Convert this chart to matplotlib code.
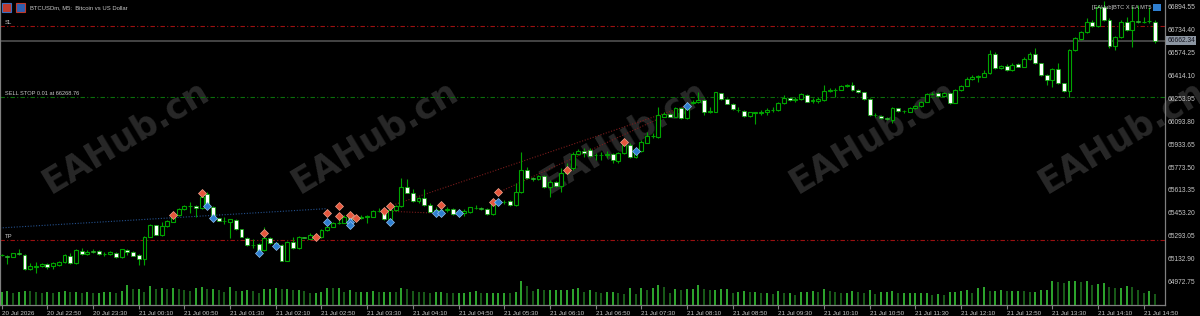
import matplotlib
matplotlib.use('Agg')
import matplotlib.pyplot as plt
from matplotlib.patches import Rectangle
import numpy as np

# BTCUSDm M5 bars, first bar 20 Jul 22:10
opens = [
    65163, 65161, 65154, 65177, 65166, 65068, 65084, 65089, 65101, 65089,
    65096, 65114, 65161, 65108, 65196, 65173, 65196, 65194, 65170, 65170,
    65182, 65149, 65201, 65184, 65166, 65135, 65294, 65373, 65303, 65368,
    65398, 65445, 65485, 65508, 65508, 65492, 65589, 65499, 65422, 65403,
    65398, 65410, 65345, 65287, 65236, 65242, 65201, 65282, 65247, 65236,
    65126, 65254, 65212, 65289, 65280, 65296, 65289, 65340, 65364, 65389,
    65391, 65433, 65410, 65422, 65433, 65433, 65475, 65471, 65415, 65480,
    65508, 65643, 65601, 65543, 65566, 65515, 65466, 65480, 65482, 65487,
    65452, 65461, 65466, 65494, 65492, 65487, 65450, 65527, 65536, 65543,
    65515, 65603, 65759, 65701, 65694, 65717, 65643, 65678, 65648, 65741,
    65771, 65871, 65895, 65899, 65862, 65864, 65867, 65869, 65825, 65876,
    65934, 65853, 65895, 65951, 65995, 65988, 66132, 66149, 66132, 66190,
    66121, 66230, 66232, 66249, 66167, 66167, 66295, 66256, 66221, 66181,
    66172, 66139, 66160, 66160, 66162, 66176, 66179, 66225, 66265, 66249,
    66253, 66284, 66242, 66242, 66249, 66314, 66318, 66321, 66349, 66351,
    66318, 66302, 66256, 66144, 66139, 66121, 66109, 66190, 66172, 66167,
    66190, 66207, 66237, 66291, 66300, 66279, 66295, 66230, 66318, 66349,
    66395, 66412, 66412, 66435, 66570, 66470, 66486, 66458, 66498, 66481,
    66533, 66568, 66505, 66423, 66388, 66465, 66365, 66311, 66598, 66675,
    66721, 66796, 66765, 66896, 66807, 66628, 66686, 66796, 66737, 66800,
    66793, 66798, 66796,
]
highs = [
    65173, 65168, 65182, 65205, 65170, 65108, 65117, 65108, 65108, 65114,
    65124, 65173, 65177, 65205, 65212, 65201, 65208, 65201, 65187, 65196,
    65189, 65210, 65208, 65191, 65173, 65298, 65382, 65377, 65398, 65410,
    65457, 65492, 65515, 65538, 65515, 65592, 65603, 65508, 65426, 65433,
    65419, 65415, 65350, 65294, 65280, 65247, 65364, 65289, 65252, 65240,
    65261, 65294, 65301, 65294, 65317, 65312, 65350, 65371, 65394, 65422,
    65443, 65468, 65445, 65443, 65443, 65480, 65492, 65475, 65492, 65515,
    65701, 65694, 65624, 65568, 65624, 65527, 65503, 65531, 65499, 65492,
    65473, 65485, 65503, 65515, 65499, 65492, 65550, 65554, 65550, 65550,
    65666, 65887, 65783, 65713, 65724, 65722, 65689, 65683, 65771, 65806,
    65887, 65904, 65911, 65911, 65876, 65888, 65895, 65876, 65888, 65946,
    65946, 65904, 65969, 66027, 66016, 66197, 66167, 66156, 66202, 66197,
    66225, 66249, 66307, 66253, 66202, 66307, 66300, 66260, 66225, 66202,
    66179, 66167, 66167, 66179, 66190, 66197, 66237, 66284, 66272, 66267,
    66295, 66288, 66260, 66272, 66353, 66330, 66330, 66353, 66360, 66377,
    66323, 66307, 66260, 66156, 66144, 66127, 66197, 66195, 66179, 66197,
    66214, 66244, 66295, 66304, 66307, 66302, 66300, 66323, 66353, 66412,
    66423, 66423, 66458, 66598, 66586, 66493, 66500, 66505, 66505, 66551,
    66586, 66609, 66509, 66428, 66470, 66505, 66370, 66602, 66686, 66733,
    66819, 66807, 66912, 66940, 66819, 66696, 66807, 66831, 66905, 66912,
    66831, 66900, 66807,
]
lows = [
    65159, 65103, 65149, 65166, 65061, 65061, 65042, 65084, 65068, 65068,
    65089, 65108, 65103, 65103, 65168, 65163, 65177, 65163, 65159, 65163,
    65145, 65145, 65163, 65156, 65096, 65096, 65289, 65303, 65298, 65364,
    65394, 65440, 65480, 65461, 65431, 65485, 65508, 65410, 65401, 65382,
    65284, 65343, 65289, 65231, 65212, 65184, 65196, 65242, 65212, 65121,
    65121, 65208, 65208, 65282, 65275, 65270, 65284, 65336, 65359, 65382,
    65387, 65398, 65401, 65417, 65389, 65429, 65466, 65410, 65410, 65475,
    65503, 65596, 65538, 65527, 65510, 65464, 65457, 65457, 65468, 65447,
    65443, 65438, 65461, 65485, 65480, 65445, 65445, 65522, 65522, 65510,
    65510, 65596, 65696, 65685, 65689, 65634, 65573, 65643, 65606, 65736,
    65759, 65864, 65853, 65853, 65830, 65830, 65841, 65806, 65806, 65871,
    65841, 65841, 65888, 65946, 65981, 65983, 66127, 66127, 66127, 66116,
    66116, 66221, 66225, 66144, 66156, 66162, 66249, 66218, 66181, 66167,
    66132, 66132, 66081, 66144, 66144, 66167, 66174, 66221, 66244, 66237,
    66249, 66232, 66225, 66230, 66244, 66307, 66272, 66316, 66337, 66314,
    66297, 66251, 66139, 66132, 66116, 66109, 66090, 66167, 66156, 66162,
    66186, 66202, 66232, 66284, 66272, 66274, 66221, 66225, 66314, 66344,
    66391, 66377, 66407, 66430, 66465, 66465, 66453, 66453, 66477, 66477,
    66528, 66500, 66419, 66353, 66342, 66360, 66307, 66272, 66593, 66670,
    66717, 66761, 66761, 66803, 66609, 66598, 66682, 66733, 66621, 66784,
    66784, 66789, 66649,
]
closes = [
    65166, 65154, 65177, 65170, 65066, 65089, 65087, 65101, 65084, 65108,
    65119, 65166, 65108, 65201, 65173, 65189, 65189, 65170, 65173, 65184,
    65149, 65205, 65187, 65161, 65138, 65294, 65373, 65308, 65368, 65401,
    65445, 65485, 65508, 65510, 65492, 65573, 65515, 65422, 65406, 65401,
    65415, 65347, 65294, 65236, 65233, 65189, 65287, 65247, 65224, 65126,
    65256, 65212, 65289, 65287, 65303, 65301, 65340, 65364, 65387, 65391,
    65433, 65403, 65429, 65433, 65436, 65475, 65473, 65415, 65480, 65508,
    65643, 65601, 65543, 65561, 65515, 65468, 65480, 65482, 65485, 65452,
    65468, 65473, 65499, 65492, 65485, 65450, 65538, 65545, 65533, 65515,
    65603, 65759, 65701, 65699, 65717, 65638, 65678, 65648, 65741, 65771,
    65871, 65895, 65876, 65860, 65864, 65862, 65871, 65830, 65876, 65934,
    65853, 65895, 65958, 65997, 65997, 66144, 66149, 66132, 66190, 66121,
    66214, 66232, 66249, 66167, 66169, 66302, 66256, 66223, 66186, 66179,
    66139, 66162, 66162, 66165, 66179, 66179, 66230, 66265, 66249, 66258,
    66288, 66237, 66249, 66256, 66311, 66316, 66321, 66349, 66351, 66318,
    66302, 66256, 66144, 66142, 66121, 66114, 66190, 66172, 66169, 66190,
    66207, 66237, 66288, 66293, 66277, 66295, 66230, 66318, 66349, 66395,
    66412, 66414, 66435, 66570, 66470, 66486, 66458, 66493, 66481, 66533,
    66568, 66505, 66423, 66388, 66465, 66365, 66311, 66598, 66679, 66721,
    66796, 66765, 66896, 66807, 66628, 66686, 66796, 66737, 66803, 66791,
    66796, 66800, 66662,
]
volumes = [
    280, 301, 245, 266, 301, 294, 273, 245, 266, 259,
    280, 294, 266, 280, 259, 266, 259, 259, 273, 280,
    245, 294, 420, 329, 329, 280, 406, 336, 350, 329,
    350, 329, 315, 301, 350, 385, 336, 336, 315, 280,
    371, 294, 301, 315, 301, 259, 336, 336, 350, 336,
    336, 315, 315, 294, 259, 259, 273, 364, 350, 350,
    273, 308, 273, 273, 273, 294, 273, 280, 280, 273,
    350, 329, 294, 280, 273, 259, 273, 280, 259, 252,
    259, 259, 273, 294, 245, 259, 259, 259, 259, 245,
    280, 504, 399, 294, 329, 308, 308, 308, 308, 308,
    329, 350, 273, 308, 273, 259, 273, 273, 259, 238,
    350, 224, 350, 308, 364, 420, 378, 259, 329, 308,
    329, 329, 420, 329, 308, 308, 329, 329, 245, 273,
    294, 280, 280, 252, 252, 231, 301, 245, 252, 217,
    266, 266, 287, 280, 336, 301, 266, 252, 252, 287,
    280, 252, 315, 231, 266, 266, 301, 252, 252, 252,
    252, 252, 252, 217, 231, 217, 266, 280, 287, 315,
    252, 357, 385, 287, 301, 315, 287, 287, 301, 287,
    280, 280, 315, 322, 511, 490, 455, 511, 511, 476,
    511, 427, 441, 455, 385, 357, 357, 406, 371, 322,
    252, 287, 231,
]
assert len(opens) == len(highs) == len(lows) == len(closes) == len(volumes) == 203

time_labels = ['20 Jul 2026', '20 Jul 22:50', '20 Jul 23:30', '21 Jul 00:10', '21 Jul 00:50',
               '21 Jul 01:30', '21 Jul 02:10', '21 Jul 02:50', '21 Jul 03:30', '21 Jul 04:10',
               '21 Jul 04:50', '21 Jul 05:30', '21 Jul 06:10', '21 Jul 06:50', '21 Jul 07:30',
               '21 Jul 08:10', '21 Jul 08:50', '21 Jul 09:30', '21 Jul 10:10', '21 Jul 10:50',
               '21 Jul 11:30', '21 Jul 12:10', '21 Jul 12:50', '21 Jul 13:30', '21 Jul 14:10',
               '21 Jul 14:50']
price_ticks = [66894.55, 66734.40, 66574.25, 66414.10, 66253.95, 66093.80, 65933.65,
               65773.50, 65613.35, 65453.20, 65293.05, 65132.90, 64972.75]

# trade arrows
sell_bars = [30, 35, 46, 55, 57, 59, 59, 61, 62, 67, 68, 77, 86, 87, 99, 109]
sell_prices = [65445, 65596, 65322, 65294, 65461, 65508, 65438, 65443, 65422, 65473,
               65508, 65515, 65534, 65603, 65759, 65958]
buy_bars = [36, 37, 45, 48, 57, 61, 61, 68, 76, 77, 80, 87, 111, 120]
buy_prices = [65508, 65422, 65182, 65231, 65394, 65394, 65375, 65394, 65457, 65457,
              65457, 65534, 65895, 66209]

# trade history links (from bar, from price, to bar, to price)
link_from_bar = [-0.3, 67, 68, 87]
link_from_price = [65355, 65473, 65508, 65603]
link_to_bar = [57, 77, 120, 120]
link_to_price = [65490, 65457, 66209, 66209]

sl_price = 66767.5
tp_price = 65269.0
sell_stop_price = 66268.76
bid_price = 66662.34

GREEN = '#00a400'
TXT = '#c8c8c8'
AXC = '#7f7f7f'
FONT = ['Liberation Sans Narrow', 'Liberation Sans', 'DejaVu Sans']
plt.rcParams['font.family'] = FONT

fig = plt.figure(figsize=(12, 3.16), dpi=100, facecolor='black')
ax = fig.add_axes([0, 11 / 316, 1165 / 1200, 305 / 316])
ax.set_facecolor('black')

n = len(closes)
x = np.arange(n)
o = np.array(opens, float)
c = np.array(closes, float)
h = np.array(highs, float)
l = np.array(lows, float)
up = c >= o

# watermark
for cx in [126, 375, 624, 873, 1122]:
    ax.text(cx / 1200, 1 - 137 / 316, 'EAHub.cn', transform=fig.transFigure, rotation=31,
            ha='center', va='center', fontsize=25, fontweight='bold', color='#282828',
            family='DejaVu Sans', zorder=0.5)

# level lines
ax.axhline(sl_price, color='#9a1010', lw=0.8, ls=(0, (4, 2, 1, 2)), zorder=1)
ax.axhline(tp_price, color='#9a1010', lw=0.8, ls=(0, (4, 2, 1, 2)), zorder=1)
ax.axhline(sell_stop_price, color='#0a6e0a', lw=0.8, ls=(0, (4, 2, 1, 2)), zorder=1)
ax.axhline(bid_price, color='#4a4a4a', lw=1.3, zorder=1)
yt = ax.get_yaxis_transform()
ax.text(0.004, sl_price + 6, 'SL', transform=yt, color=TXT, fontsize=4.3, va='bottom')
ax.text(0.004, tp_price + 6, 'TP', transform=yt, color=TXT, fontsize=4.3, va='bottom')
ax.text(0.004, sell_stop_price + 6, 'SELL STOP 0.01 at 66268.76', transform=yt,
        color=TXT, fontsize=4.1, va='bottom')

# trade links
for i in range(len(link_from_bar)):
    col = '#24508c' if i == 0 else '#7a1c1c'
    ax.plot([link_from_bar[i], link_to_bar[i]], [link_from_price[i], link_to_price[i]],
            color=col, lw=0.8, ls=(0, (1, 1.5)), zorder=2)

# candles
ax.vlines(x, l, h, color=GREEN, lw=0.8, zorder=3)
body_lo = np.minimum(o, c)
body_h = np.maximum(np.abs(c - o), 1.0)
ax.bar(x[up], body_h[up], bottom=body_lo[up], width=0.68, color='black',
       edgecolor=GREEN, linewidth=0.8, zorder=4)
ax.bar(x[~up], body_h[~up], bottom=body_lo[~up], width=0.68, color='white',
       edgecolor=GREEN, linewidth=0.5, zorder=4)

# arrows
ax.plot(sell_bars, sell_prices, ls='none', marker='D', ms=3.6, color='#e5563c',
        mec='#f3a38e', mew=0.5, zorder=6)
ax.plot(buy_bars, buy_prices, ls='none', marker='D', ms=3.6, color='#2f7fd0',
        mec='#90bfee', mew=0.5, zorder=6)

ax.set_xlim(-0.3, 203.73)
ax.set_ylim(64817, 66947)

# price scale on the right (labels as plain texts next to the ticks)
ax.yaxis.tick_right()
ax.set_yticks(price_ticks, labels=[''] * len(price_ticks))
for p in price_ticks:
    ax.text(1.0025, p, '%.2f' % p, transform=yt, ha='left', va='center',
            fontsize=4.8, color=TXT)
ax.set_xticks(range(0, n - 2, 8))
ax.set_xticklabels(time_labels)
for lbl in ax.get_xticklabels():
    lbl.set_ha('left')
ax.tick_params(axis='y', direction='out', length=2, colors=AXC)
ax.tick_params(axis='x', direction='out', length=3, pad=1.2, labelsize=4.5,
               colors=AXC, labelcolor=TXT)
for s in ['left', 'right', 'bottom']:
    ax.spines[s].set_color(AXC)
    ax.spines[s].set_linewidth(0.9)
ax.spines['top'].set_visible(False)

# bid price box
ax.text(1.002, bid_price, '%.2f' % bid_price, transform=yt, ha='left', va='center',
        fontsize=4.8, color='#14141e',
        bbox=dict(facecolor='#8c96a2', edgecolor='none', pad=0.8))

# volumes
axv = ax.twinx()
axv.set_ylim(0, 6384)
axv.set_yticks([])
for s in axv.spines.values():
    s.set_visible(False)
vol = np.array(volumes)
vcol = ['#36c436' if i == 0 or vol[i] >= vol[i - 1] else '#1d6b1d' for i in range(n)]
axv.vlines(x, 0, vol, colors=vcol, lw=1.2)

# header
fig.patches.append(Rectangle((2 / 1200, 1 - 12 / 316), 9 / 1200, 9 / 316,
                             transform=fig.transFigure, facecolor='#c0392b', edgecolor='#3a6fc0', lw=0.8))
fig.patches.append(Rectangle((16 / 1200, 1 - 12 / 316), 9 / 1200, 9 / 316,
                             transform=fig.transFigure, facecolor='#2f5fb0', edgecolor='#c0392b', lw=0.8))
fig.text(30 / 1200, 1 - 7.5 / 316, 'BTCUSDm, M5:  Bitcoin vs US Dollar', color=TXT,
         fontsize=4.2, va='center', ha='left')
fig.text(1151 / 1200, 1 - 7.5 / 316, '[EAHub]BTC X EA MT5', color=TXT,
         fontsize=4.1, va='center', ha='right')
fig.patches.append(Rectangle((1153 / 1200, 1 - 11 / 316), 8 / 1200, 7 / 316,
                             transform=fig.transFigure, facecolor='#2f7fd0', edgecolor='none'))

fig.savefig('out.png', dpi=100, facecolor='black')
